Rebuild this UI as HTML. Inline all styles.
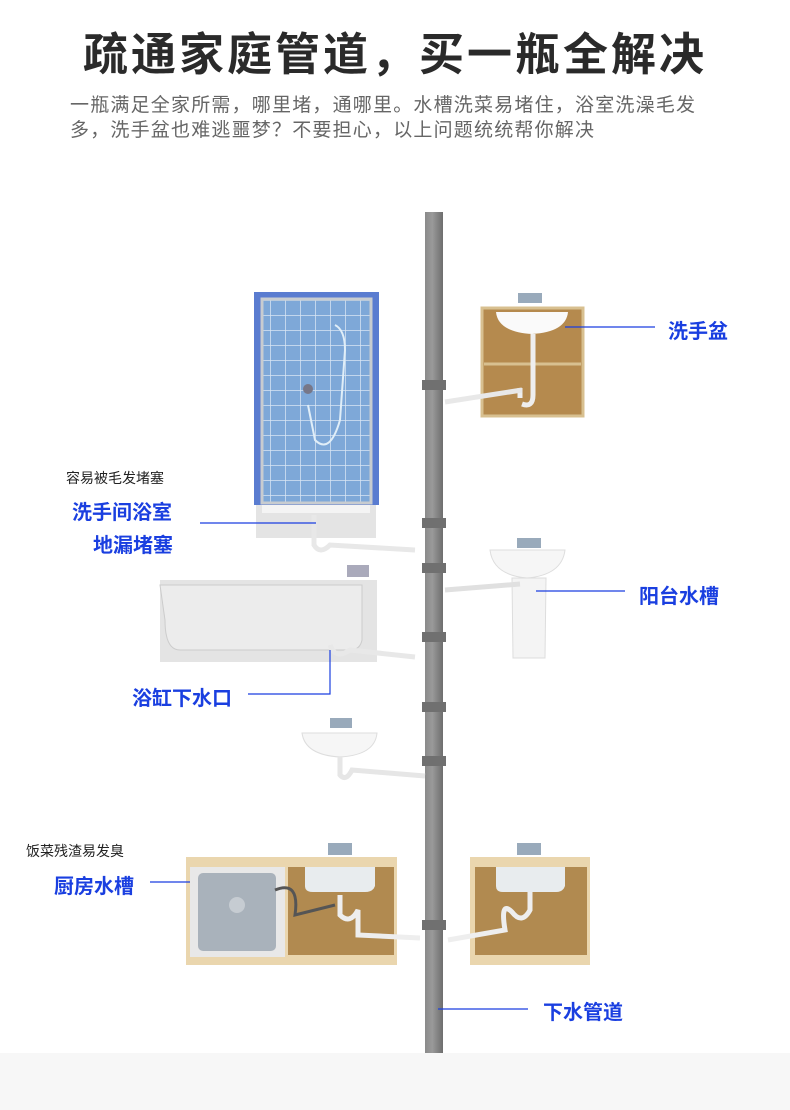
<!DOCTYPE html>
<html><head><meta charset="utf-8"><style>
body{margin:0;width:790px;height:1110px;background:#fff;overflow:hidden;font-family:"Liberation Sans","Noto Sans CJK SC",sans-serif;position:relative}
.t{position:absolute;white-space:nowrap}
.b{color:#1a3fe0;font-weight:bold;font-size:20px}
.s{color:#222;font-size:14px}
</style></head><body>
<div class="t" style="left:0;width:790px;text-align:center;top:18px;font-size:45px;font-weight:bold;color:#2a2a2a;letter-spacing:3px">疏通家庭管道，买一瓶全解决</div>
<div class="t" style="left:70px;top:93px;font-size:19px;color:#666;line-height:25px;letter-spacing:1.2px">一瓶满足全家所需，哪里堵，通哪里。水槽洗菜易堵住，浴室洗澡毛发<br>多，洗手盆也难逃噩梦？不要担心，以上问题统统帮你解决</div>
<div style="position:absolute;left:0;top:1053px;width:790px;height:57px;background:#f7f7f7"></div>
<svg width="790" height="1110" style="position:absolute;left:0;top:0">
<defs>
<linearGradient id="pg" x1="0" x2="1"><stop offset="0" stop-color="#8a8a8a"/><stop offset=".4" stop-color="#9a9a9a"/><stop offset="1" stop-color="#6e6e6e"/></linearGradient>
<pattern id="tile" width="15" height="15" patternUnits="userSpaceOnUse"><rect width="15" height="15" fill="#7ea8d8"/><path d="M0 0H15M0 0V15" stroke="#d8e6f4" stroke-width="1.5"/></pattern>
</defs>
<rect x="425" y="212" width="18" height="841" fill="url(#pg)"/>
<g fill="#707070"><rect x="422" y="380" width="24" height="10"/><rect x="422" y="518" width="24" height="10"/><rect x="422" y="563" width="24" height="10"/><rect x="422" y="632" width="24" height="10"/><rect x="422" y="702" width="24" height="10"/><rect x="422" y="756" width="24" height="10"/><rect x="422" y="920" width="24" height="10"/></g>
<rect x="254" y="292" width="125" height="213" fill="#5a7cd0"/>
<rect x="262" y="299" width="109" height="204" fill="url(#tile)" stroke="#c8ccd0" stroke-width="3"/>
<path d="M335 325 Q345 330 345 350 L340 420 Q330 455 315 440 L308 405" fill="none" stroke="#e0eef8" stroke-width="2"/>
<circle cx="308" cy="389" r="5" fill="#778"/>
<rect x="256" y="505" width="120" height="33" fill="#e4e4e4"/>
<rect x="262" y="505" width="108" height="8" fill="#f4f4f4"/>
<rect x="482" y="308" width="101" height="108" fill="#b58a4e" stroke="#d8c090" stroke-width="3"/>
<line x1="484" y1="364" x2="581" y2="364" stroke="#d8c090" stroke-width="3"/>
<path d="M496 312 H568 Q566 332 532 334 Q498 332 496 312Z" fill="#fafafa"/>
<rect x="518" y="293" width="24" height="10" fill="#9ab"/>
<path d="M533 334 V395 Q533 408 522 404 M520 388 V398" stroke="#eee" stroke-width="5" fill="none"/>
<path d="M445 402 L522 390" stroke="#e8e8e8" stroke-width="5"/>
<path d="M314 515 V545 Q320 555 330 545 L415 550" stroke="#e8e8e8" stroke-width="5" fill="none"/>
<path d="M490 550 H565 Q562 575 527 578 Q493 575 490 550Z" fill="#f6f6f6" stroke="#ddd"/>
<path d="M512 578 H546 L545 658 H513Z" fill="#f4f4f4" stroke="#ddd"/>
<rect x="517" y="538" width="24" height="10" fill="#9ab"/>
<path d="M445 590 L520 584" stroke="#e0e0e0" stroke-width="5"/>
<rect x="160" y="580" width="217" height="82" fill="#e4e4e4"/>
<path d="M160 585 H362 V640 Q360 650 350 650 H180 Q165 650 165 620Z" fill="#ececec" stroke="#ccc"/>
<rect x="347" y="565" width="22" height="12" fill="#aab"/>
<path d="M330 645 Q335 660 350 650 L415 657" stroke="#e8e8e8" stroke-width="5" fill="none"/>
<path d="M302 733 H377 Q375 755 340 757 Q305 755 302 733Z" fill="#f6f6f6" stroke="#ddd"/>
<rect x="330" y="718" width="22" height="10" fill="#9ab"/>
<path d="M340 757 V775 Q346 782 352 770 L425 776" stroke="#e6e6e6" stroke-width="5" fill="none"/>
<rect x="186" y="857" width="211" height="108" fill="#ead6ae"/>
<rect x="190" y="867" width="95" height="90" fill="#e8e8e8"/>
<rect x="198" y="873" width="78" height="78" rx="5" fill="#a9b2bb"/>
<circle cx="237" cy="905" r="8" fill="#c6ccd2"/>
<rect x="288" y="867" width="106" height="88" fill="#b18a50"/>
<path d="M305 867 H375 V886 Q373 892 365 892 H313 Q305 892 305 886Z" fill="#e8ecee"/>
<rect x="328" y="843" width="24" height="12" fill="#9ab"/>
<path d="M275 890 Q300 880 295 915 L335 905" stroke="#555" stroke-width="3" fill="none"/>
<path d="M340 895 V915 Q350 925 358 910 V935 L420 938" stroke="#eee" stroke-width="5" fill="none"/>
<rect x="470" y="857" width="120" height="108" fill="#ead6ae"/>
<rect x="475" y="867" width="112" height="88" fill="#b18a50"/>
<path d="M496 867 H565 V886 Q563 892 556 892 H503 Q496 892 496 886Z" fill="#e8ecee"/>
<rect x="517" y="843" width="24" height="12" fill="#9ab"/>
<path d="M530 892 V910 Q522 925 512 912 Q500 900 505 930 L448 940" stroke="#eee" stroke-width="5" fill="none"/>
<g stroke="#1a3fe0" stroke-width="1.2" fill="none">
<line x1="565" y1="327" x2="655" y2="327"/>
<line x1="200" y1="523" x2="316" y2="523"/>
<line x1="536" y1="591" x2="625" y2="591"/>
<path d="M330 650 V694 H248"/>
<line x1="150" y1="882" x2="190" y2="882"/>
<line x1="438" y1="1009" x2="528" y2="1009"/>
</g>
</svg>
<div class="t b" style="left:668px;top:315px">洗手盆</div>
<div class="t s" style="left:66px;top:468px">容易被毛发堵塞</div>
<div class="t b" style="left:72px;top:496px">洗手间浴室</div>
<div class="t b" style="left:93px;top:529px">地漏堵塞</div>
<div class="t b" style="left:639px;top:580px">阳台水槽</div>
<div class="t b" style="left:132px;top:682px">浴缸下水口</div>
<div class="t s" style="left:26px;top:841px">饭菜残渣易发臭</div>
<div class="t b" style="left:54px;top:870px">厨房水槽</div>
<div class="t b" style="left:543px;top:996px">下水管道</div>
</body></html>
